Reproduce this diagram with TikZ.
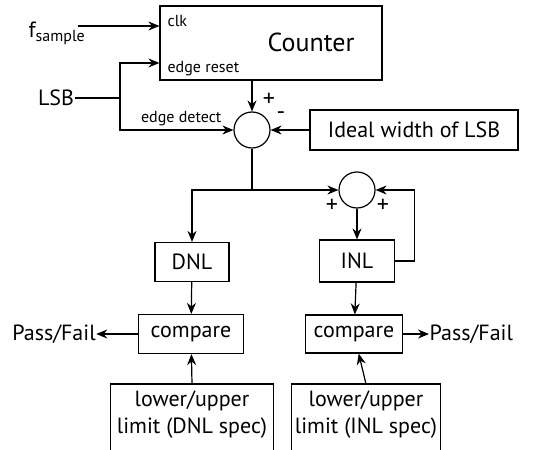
\documentclass[tikz,border=0pt]{standalone}
\usepackage{fontspec}
\setmainfont{PT Sans}
\usetikzlibrary{arrows.meta}
\begin{document}
\begin{tikzpicture}[x=1pt, y=-1pt, line width=1.2pt,
    every node/.style={inner sep=0pt, font=\fontsize{22}{27}\selectfont},
    block/.style={draw, shape=rectangle},
    sum/.style={draw, shape=circle, minimum size=36pt},
    small/.style={font=\fontsize{16}{18}\selectfont},
    sign/.style={font=\fontsize{24}{26}\selectfont},
    >={Stealth[length=11pt,width=9pt]}]
  \useasboundingbox (0,0) rectangle (537,449);
  % counter and its inputs
  \node[block, minimum width=222pt, minimum height=74pt] (counter) at (271,43) {};
  \node[font=\fontsize{26}{30}\selectfont] (cnt) at (311,42) {Counter};
  \node[small, anchor=west] (clk) at (167,21) {clk};
  \node[small, anchor=west] (rst) at (167,69) {edge reset};
  \node (fs) at (57,33) {f\textsubscript{\fontsize{16}{18}\selectfont sample}};
  \node (lsb) at (56,98) {LSB};
  \coordinate (fsend) at (78,26);
  \coordinate (lsbsplit) at (120,98);
  % summing points
  \node[sum] (sum1) at (252,130) {};
  \node[block, minimum width=208pt, minimum height=40pt] (ideal) at (414,130) {Ideal width of LSB};
  \node[sum] (sum2) at (357,190) {};
  \coordinate (branch) at (252,190);
  % DNL and INL paths
  \node[block, minimum width=74pt, minimum height=39pt] (dnl) at (192,262) {DNL};
  \node[block, minimum width=75pt, minimum height=42pt] (inl) at (357,261) {INL};
  \node[block, minimum width=105pt, minimum height=39pt] (cmpL) at (191,334) {compare};
  \node[block, minimum width=97pt, minimum height=38pt] (cmpR) at (354,334) {compare};
  \node (passL) at (54,334) {Pass/Fail};
  \node[anchor=west] (passR) at (429,334) {Pass/Fail};
  \node[align=center, minimum width=162pt, anchor=north, inner ysep=6pt] (limL) at (192,384) {lower/upper\\limit (DNL spec)};
  \node[align=center, minimum width=148pt, anchor=north, inner ysep=6pt] (limR) at (366,384) {lower/upper\\limit (INL spec)};
  % connectors
  \draw[->] (fsend) -- (fsend -| counter.west);
  \draw (lsb) -- (lsbsplit);
  \draw[->] (lsbsplit) |- ([yshift=-20pt]counter.west);
  \draw[->] (lsbsplit) |- (sum1.west) node[small, pos=0.77, above=4pt] {edge detect};
  \draw[->] (sum1 |- counter.south) -- (sum1.north);
  \node[sign] at (269,100) {+};
  \node[sign] at (281,116) {-};
  \draw[->] (ideal) -- (sum1);
  \draw (sum1) -- (branch);
  \draw[->] (branch) -| (dnl);
  \draw[->] (branch) -- (sum2);
  \node[sign] at (332,206) {+};
  \node[sign] at (383,206) {+};
  \draw[->] (sum2) -- (inl);
  \draw[->] (inl.east) -- ++(19,0) |- (sum2.east);
  \draw[->] (dnl) -- (cmpL);
  \draw[->] (inl) -- (cmpR);
  \draw[->] (cmpL) -- (passL);
  \draw[->] (cmpR) -- (passR);
  \draw[->] (limL.north) -- (cmpL);
  \draw[->] (limR.north) -- (cmpR);
  \draw ([yshift=-30pt]limL.south west) -- (limL.north west) -- (limL.north east) -- ([yshift=-30pt]limL.south east);
  \draw ([yshift=-30pt]limR.south west) -- (limR.north west) -- (limR.north east) -- ([yshift=-30pt]limR.south east);
\end{tikzpicture}
\end{document}
